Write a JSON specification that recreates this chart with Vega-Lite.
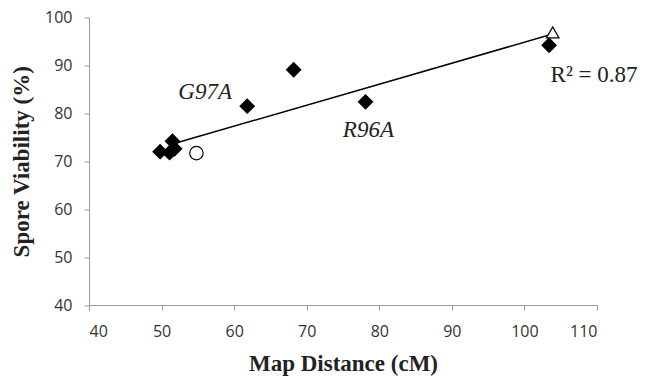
{
  "$schema": "https://vega.github.io/schema/vega-lite/v6.json",
  "autosize": "none",
  "width": 508,
  "height": 287.5,
  "padding": {"left": 89, "top": 17.5, "right": 54, "bottom": 72},
  "background": "white",
  "config": {"view": {"stroke": null}},
  "datasets": {
    "pts": [
      {"dist": 49.8, "via": 72.0, "kind": "diamond"},
      {"dist": 51.1, "via": 71.8, "kind": "diamond"},
      {"dist": 51.5, "via": 74.2, "kind": "diamond"},
      {"dist": 51.8, "via": 72.6, "kind": "diamond"},
      {"dist": 61.8, "via": 81.5, "kind": "diamond"},
      {"dist": 68.2, "via": 89.1, "kind": "diamond"},
      {"dist": 78.1, "via": 82.4, "kind": "diamond"},
      {"dist": 103.4, "via": 94.2, "kind": "diamond"},
      {"dist": 54.8, "via": 71.7, "kind": "circle"},
      {"dist": 103.9, "via": 96.9, "kind": "triangle"}
    ],
    "trend": [
      {"dist": 51.5, "via": 73.6},
      {"dist": 104.0, "via": 96.6}
    ],
    "mutants": [
      {"dist": 56.0, "via": 84.5, "label": "G97A"},
      {"dist": 78.5, "via": 76.5, "label": "R96A"}
    ],
    "fit": [
      {"dist": 109.6, "via": 88.1, "label": "R² = 0.87"}
    ]
  },
  "layer": [
    {
      "data": {"name": "trend"},
      "mark": {"type": "line", "color": "black", "strokeWidth": 1.5},
      "encoding": {
        "x": {"field": "dist", "type": "quantitative", "scale": {"domain": [40, 110], "nice": false, "zero": false},
          "axis": {"values": [40, 50, 60, 70, 80, 90, 100, 110], "grid": false, "domainColor": "#999", "tickColor": "#999", "tickSize": 5,
            "labelFont": "Open Sans", "labelFontSize": 16, "labelColor": "#333", "labelPadding": 13,
            "title": "Map Distance (cM)", "titleFont": "Liberation Serif", "titleFontSize": 23, "titleFontWeight": "bold", "titleColor": "#222", "titlePadding": 13}},
        "y": {"field": "via", "type": "quantitative", "scale": {"domain": [40, 100], "nice": false, "zero": false},
          "axis": {"values": [40, 50, 60, 70, 80, 90, 100], "grid": false, "domainColor": "#999", "tickColor": "#999", "tickSize": 5,
            "labelFont": "Open Sans", "labelFontSize": 16, "labelColor": "#333", "labelPadding": 12,
            "title": "Spore Viability (%)", "titleFont": "Liberation Serif", "titleFontSize": 23, "titleFontWeight": "bold", "titleColor": "#222", "titlePadding": 11}}
      }
    },
    {
      "data": {"name": "pts"},
      "mark": {"type": "point", "filled": false, "stroke": "black", "strokeWidth": 1.2, "opacity": 1},
      "encoding": {
        "x": {"field": "dist", "type": "quantitative"},
        "y": {"field": "via", "type": "quantitative"},
        "shape": {"field": "kind", "type": "nominal", "scale": {"domain": ["diamond", "circle", "triangle"], "range": ["diamond", "circle", "triangle-up"]}, "legend": null},
        "fill": {"field": "kind", "type": "nominal", "scale": {"domain": ["diamond", "circle", "triangle"], "range": ["black", "white", "white"]}, "legend": null},
        "size": {"field": "kind", "type": "nominal", "scale": {"domain": ["diamond", "circle", "triangle"], "range": [200, 160, 150]}, "legend": null}
      }
    },
    {
      "data": {"name": "mutants"},
      "mark": {"type": "text", "font": "Liberation Serif", "fontSize": 23, "fontStyle": "italic", "color": "#222"},
      "encoding": {
        "x": {"field": "dist", "type": "quantitative"},
        "y": {"field": "via", "type": "quantitative"},
        "text": {"field": "label"}
      }
    },
    {
      "data": {"name": "fit"},
      "mark": {"type": "text", "font": "Liberation Serif", "fontSize": 23, "color": "#222"},
      "encoding": {
        "x": {"field": "dist", "type": "quantitative"},
        "y": {"field": "via", "type": "quantitative"},
        "text": {"field": "label"}
      }
    }
  ]
}
